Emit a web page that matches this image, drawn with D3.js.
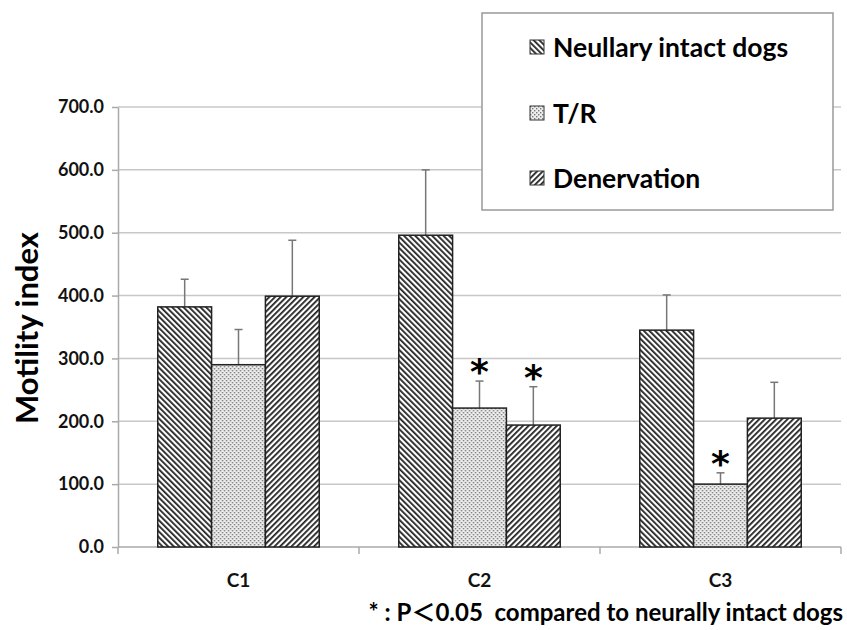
<!DOCTYPE html>
<html lang="en">
<head>
<meta charset="UTF-8">
<title>Motility index</title>
<script src="https://d3js.org/d3.v7.min.js"></script>
<style>
  body { margin: 0; background: #fff; }
  svg { font-family: Lato, "Open Sans", sans-serif; }
  .grid line { stroke: #c8c8c8; stroke-width: 1.5; }
  .axis path, .axis line { stroke: #aaa; stroke-width: 1.5; }
  .axis text { font-weight: bold; fill: #111; font-family: Lato, sans-serif; }
</style>
</head>
<body>
<svg width="847" height="630"></svg>
<script>
const categories = ["C1", "C2", "C3"];
const series = ["Neullary intact dogs", "T/R", "Denervation"];
const means = [
  [382, 290, 399],
  [496, 221, 194],
  [345, 100, 205]
];
const errors = [
  [44, 56, 89],
  [104, 43, 61],
  [56, 18, 57]
];
const significant = [
  [false, false, false],
  [false, true, true],
  [false, true, false]
];
const yTicks = [0, 100, 200, 300, 400, 500, 600, 700];

const svg = d3.select("svg");
const plotL = 118, plotR = 841, plotT = 107, plotB = 547;

// patterns
const defs = svg.append("defs");
function stripes(id, angle) {
  const p = defs.append("pattern").attr("id", id)
    .attr("patternUnits", "userSpaceOnUse").attr("width", 4).attr("height", 4)
    .attr("patternTransform", `rotate(${angle})`);
  p.append("rect").attr("width", 4).attr("height", 4).attr("fill", "#fff");
  p.append("rect").attr("width", 1.8).attr("height", 4).attr("fill", "#222");
}
stripes("pNeul", -45);
stripes("pDen", 45);
const dots = defs.append("pattern").attr("id", "pTR")
  .attr("patternUnits", "userSpaceOnUse").attr("width", 4).attr("height", 4);
dots.append("rect").attr("width", 4).attr("height", 4).attr("fill", "#eee");
dots.append("rect").attr("width", 1.4).attr("height", 1.4).attr("fill", "#777");
dots.append("rect").attr("x", 2).attr("y", 2).attr("width", 1.4).attr("height", 1.4).attr("fill", "#777");
const fills = ["url(#pNeul)", "url(#pTR)", "url(#pDen)"];

const y = d3.scaleLinear().domain([0, 700]).range([plotB, plotT]);
const x0 = d3.scaleBand().domain(categories).range([plotL, plotR]).paddingInner(0.33).paddingOuter(0.165);
const x1 = d3.scaleBand().domain(series).range([0, x0.bandwidth()]);

// grid
svg.append("g").attr("class", "grid")
  .selectAll("line").data(yTicks.slice(1)).join("line")
  .attr("x1", plotL).attr("x2", plotR)
  .attr("y1", d => y(d)).attr("y2", d => y(d));

// axes
const yAxis = svg.append("g").attr("class", "axis")
  .attr("transform", `translate(${plotL},0)`)
  .call(d3.axisLeft(y).tickValues(yTicks).tickSize(6).tickSizeOuter(0).tickFormat(d3.format(".1f")));
yAxis.attr("font-size", null);
yAxis.selectAll("text").style("font-size", "18px").attr("x", -14);

const xs = d3.scalePoint().domain(d3.range(4)).range([plotL, plotR]);
const xAxis = svg.append("g").attr("class", "axis");
xAxis.append("line").attr("x1", plotL).attr("x2", plotR).attr("y1", plotB).attr("y2", plotB);
xAxis.selectAll(".tk").data(d3.range(4)).join("line").attr("class", "tk")
  .attr("x1", d => xs(d)).attr("x2", d => xs(d)).attr("y1", plotB).attr("y2", plotB + 7);
xAxis.selectAll("text").data(categories).join("text")
  .attr("x", d => x0(d) + x0.bandwidth() / 2).attr("y", 587)
  .attr("text-anchor", "middle").style("font-size", "19px").text(d => d);

// bars
const groups = svg.append("g").selectAll("g").data(categories).join("g")
  .attr("transform", d => `translate(${x0(d)},0)`);
groups.each(function (c, ci) {
  const g = d3.select(this);
  series.forEach((s, si) => {
    const v = means[ci][si], e = errors[ci][si];
    const cx = x1(s) + x1.bandwidth() / 2;
    g.append("line").attr("x1", cx).attr("x2", cx).attr("y1", y(v)).attr("y2", y(v + e))
      .attr("stroke", "#777").attr("stroke-width", 1.5);
    g.append("line").attr("x1", cx - 4).attr("x2", cx + 4).attr("y1", y(v + e)).attr("y2", y(v + e))
      .attr("stroke", "#777").attr("stroke-width", 1.5);
    g.append("rect").attr("x", x1(s)).attr("y", y(v))
      .attr("width", x1.bandwidth()).attr("height", y(0) - y(v))
      .attr("fill", fills[si]).attr("stroke", "#222").attr("stroke-width", 1.5);
    if (significant[ci][si]) {
      g.append("text").attr("x", cx).attr("y", y(v + e) + 3)
        .attr("text-anchor", "middle").attr("font-size", 36).attr("font-weight", "bold")
        .attr("font-family", "DejaVu Sans").text("*");
    }
  });
});

// y label
svg.append("text").attr("transform", "translate(38,328) rotate(-90)")
  .attr("text-anchor", "middle").attr("font-size", 31).attr("font-weight", "bold")
  .text("Motility index");

// legend
const lg = svg.append("g");
lg.append("rect").attr("x", 482).attr("y", 13).attr("width", 351).attr("height", 197)
  .attr("fill", "#fff").attr("stroke", "#999").attr("stroke-width", 1.5);
series.forEach((s, i) => {
  const ly = [47, 113, 178][i];
  lg.append("rect").attr("x", 530).attr("y", ly - 7).attr("width", 14).attr("height", 14)
    .attr("fill", fills[i]).attr("stroke", "#333").attr("stroke-width", 1);
  lg.append("text").attr("x", 553).attr("y", ly).attr("dy", "0.36em")
    .attr("font-size", 26.5).attr("font-weight", "bold").text(s);
});

// footnote
const foot = svg.append("text").attr("x", 843).attr("y", 621).attr("text-anchor", "end")
  .attr("font-size", 24).attr("font-weight", "bold").style("white-space", "pre");
foot.append("tspan").text("* : P");
foot.append("tspan").attr("font-family", "Noto Sans CJK JP").text("\uFF1C");
foot.append("tspan").text("0.05  compared to neurally intact dogs");
</script>
</body>
</html>
